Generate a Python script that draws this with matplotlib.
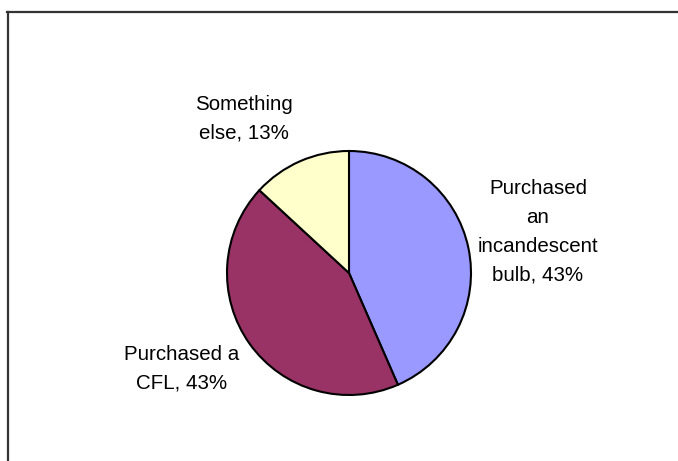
import matplotlib
matplotlib.use("Agg")
import matplotlib.pyplot as plt
from matplotlib.lines import Line2D

# Share of respondents by the kind of bulb they last bought
categories = ["Purchased\nan\nincandescent\nbulb", "Purchased a\nCFL", "Something\nelse"]
shares = [43, 43, 13]
colors = ["#9999FF", "#993366", "#FFFFCC"]

W, H = 678, 461
fig = plt.figure(figsize=(W / 100, H / 100), dpi=100)
ax = fig.add_axes([0, 0, 1, 1])

cx, cy, r = 349, H - 273, 122
ax.pie(shares, colors=colors, startangle=90, counterclock=False,
       center=(cx, cy), radius=r, frame=True,
       wedgeprops=dict(edgecolor="black", linewidth=1.5))
ax.set_xlim(0, W)
ax.set_ylim(0, H)
ax.axis("off")

# label positions (pixel coords from top-left)
label_pos = [(538, 232), (182, 369), (244, 119)]
for name, val, (px, py) in zip(categories, shares, label_pos):
    ax.text(px, H - py, f"{name}, {val}%", ha="center", va="center",
            fontsize=14.8, family="Liberation Sans", linespacing=1.65)

# chart area frame, only top and left edges show
fig.add_artist(Line2D([7 / W, 1], [1 - 12.5 / H] * 2, color="#333333", lw=1.6))
fig.add_artist(Line2D([7.5 / W] * 2, [0, 1 - 12.5 / H], color="#333333", lw=1.6))

fig.savefig("out.png", dpi=100)
